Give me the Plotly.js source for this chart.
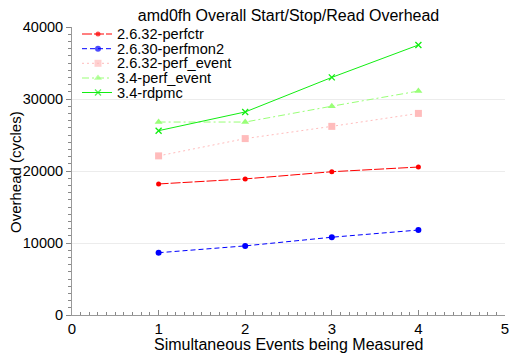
<!DOCTYPE html>
<html>
<head>
<meta charset="utf-8">
<script src="https://cdn.plot.ly/plotly-3.0.1.min.js"></script>
<style>
html,body{margin:0;padding:0;background:#fff;}
#chart{width:523px;height:361px;}
</style>
</head>
<body>
<div id="chart"></div>
<script>
// ---- data ----
const events = [1, 2, 3, 4];
const seriesNames = ["2.6.32-perfctr", "2.6.30-perfmon2", "2.6.32-perf_event", "3.4-perf_event", "3.4-rdpmc"];
const perfctr = [18200, 18900, 19900, 20550];
const perfmon2 = [8650, 9600, 10800, 11800];
const perfEvent2632 = [22100, 24500, 26200, 28000];
const perfEvent34 = [26800, 26800, 29000, 31100];
const rdpmc = [25600, 28200, 33000, 37500];
const yTickVals = [0, 10000, 20000, 30000, 40000];
const xTickVals = [0, 1, 2, 3, 4, 5];
const chartTitle = "amd0fh Overall Start/Stop/Read Overhead";
const xTitle = "Simultaneous Events being Measured";
const yTitle = "Overhead (cycles)";

// ---- styles ----
const styles = [
  {color: "#ff0000", dash: "10px,2px", symbol: "circle", size: 5},
  {color: "#0000ff", dash: "5px,3px", symbol: "circle", size: 6},
  {color: "#ffbcbc", dash: "2px,3px", symbol: "square", size: 7},
  {color: "#99ff77", dash: "7px,3px,2px,3px", symbol: "triangle-up", size: 7},
  {color: "#11ee11", dash: "solid", symbol: "x-thin-open", size: 6}
];
const allSeries = [perfctr, perfmon2, perfEvent2632, perfEvent34, rdpmc];

const FONT = "Liberation Sans, Arial, sans-serif";
const W = 523, H = 361, ML = 72, MR = 18, MT = 27, MB = 46;
const pw = W - ML - MR, ph = H - MT - MB;
const px2fx = p => (p - ML) / pw;
const py2fy = p => (H - MB - p) / ph;

const traces = [];
allSeries.forEach((vals, i) => {
  const s = styles[i];
  traces.push({
    x: events, y: vals, name: seriesNames[i], type: "scatter", mode: "lines+markers",
    line: {color: s.color, width: 1, dash: s.dash},
    marker: {color: s.color, symbol: s.symbol, size: s.size, line: {color: s.color, width: s.symbol.startsWith("x") ? 1.3 : 0}},
    showlegend: false, hoverinfo: "skip"
  });
});

// ---- hand-made legend on overlay pixel axes ----
const legX0 = 82, legX1 = 112, legXm = 98, legTextX = 116;
const legRowY = [34, 48.7, 63.3, 78, 92.5];
const annotations = [];
seriesNames.forEach((name, i) => {
  const s = styles[i];
  traces.push({
    x: [legX0, legXm, legX1], y: [legRowY[i], legRowY[i], legRowY[i]],
    xaxis: "x2", yaxis: "y2", type: "scatter", mode: "lines+markers",
    line: {color: s.color, width: 1, dash: s.dash},
    marker: {color: s.color, symbol: s.symbol, size: [0, s.size, 0], line: {color: s.color, width: s.symbol.startsWith("x") ? 1.3 : 0}},
    showlegend: false, hoverinfo: "skip"
  });
  annotations.push({
    x: legTextX, y: legRowY[i], xref: "x2", yref: "y2", text: name, showarrow: false,
    xanchor: "left", yanchor: "middle", borderpad: 0,
    font: {family: FONT, size: 14.6, color: "#000"}
  });
});

// axis titles as annotations for exact placement
annotations.push({
  x: px2fx(289), y: py2fy(344), xref: "paper", yref: "paper", text: xTitle, showarrow: false,
  xanchor: "center", yanchor: "middle", borderpad: 0,
  font: {family: FONT, size: 16, color: "#000"}
});
annotations.push({
  x: px2fx(15), y: py2fy(172), xref: "paper", yref: "paper", text: yTitle, showarrow: false,
  textangle: -90, xanchor: "center", yanchor: "middle", borderpad: 0,
  font: {family: FONT, size: 15, color: "#000"}
});

const layout = {
  width: W, height: H,
  margin: {l: ML, r: MR, t: MT, b: MB, pad: 0},
  paper_bgcolor: "#fff", plot_bgcolor: "#fff",
  font: {family: FONT, size: 15, color: "#000"},
  title: {text: chartTitle, font: {family: FONT, size: 16, color: "#000"},
          x: 0.5, xref: "paper", y: 1 - 15.5/H, yref: "container", yanchor: "middle", xanchor: "center"},
  showlegend: false,
  xaxis: {
    range: [0, 5], tickvals: xTickVals, ticktext: xTickVals.map(String),
    ticks: "inside", ticklen: 5, tickcolor: "#888", tickwidth: 1,
    showline: true, linecolor: "#999", linewidth: 1, showgrid: false, zeroline: false,
    minor: {dtick: 0.1, ticks: "inside", ticklen: 3, tickcolor: "#888", showgrid: false},
    tickfont: {family: FONT, size: 15, color: "#000"},
    fixedrange: true
  },
  yaxis: {
    range: [0, 40000], tickvals: yTickVals, ticktext: yTickVals.map(String),
    ticks: "outside", ticklen: 5, tickcolor: "#888", tickwidth: 1,
    showline: true, linecolor: "#999", linewidth: 1,
    showgrid: true, gridcolor: "#ececec", gridwidth: 1, zeroline: false,
    minor: {dtick: 1000, ticks: "outside", ticklen: 3, tickcolor: "#888", showgrid: false},
    tickfont: {family: FONT, size: 14.5, color: "#000"},
    fixedrange: true
  },
  xaxis2: {overlaying: "x", range: [ML, W - MR], visible: false, fixedrange: true},
  yaxis2: {overlaying: "y", range: [H - MB, MT], visible: false, fixedrange: true},
  annotations: annotations
};

Plotly.newPlot("chart", traces, layout, {staticPlot: true, displayModeBar: false});
</script>
</body>
</html>
